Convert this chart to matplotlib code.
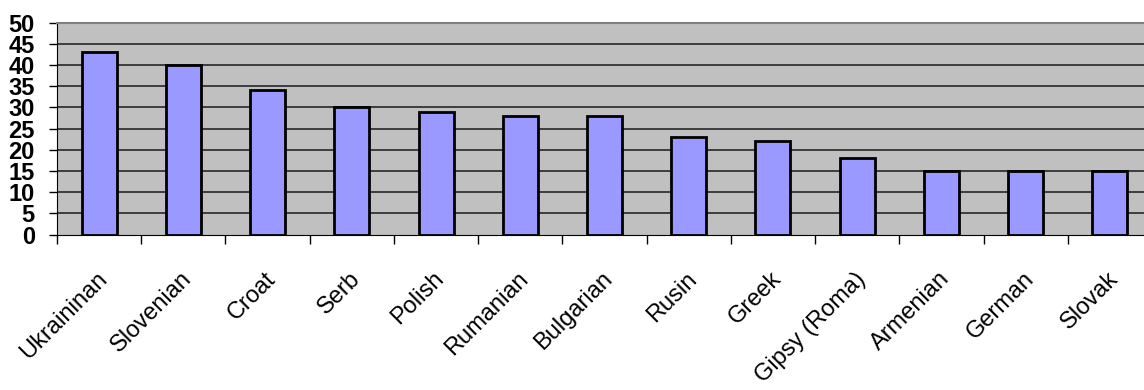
import matplotlib.pyplot as plt
import matplotlib.transforms as mtransforms
import numpy as np

groups = ["Ukraininan", "Slovenian", "Croat", "Serb", "Polish", "Rumanian",
          "Bulgarian", "Rusin", "Greek", "Gipsy (Roma)", "Armenian", "German", "Slovak"]
values = [43, 40, 34, 30, 29, 28, 28, 23, 22, 18, 15, 15, 15]
yticks = [0, 5, 10, 15, 20, 25, 30, 35, 40, 45, 50]

plt.rcParams['font.family'] = ['Liberation Sans', 'DejaVu Sans']

fig = plt.figure(figsize=(11.44, 3.9), dpi=100)
# the plot area runs a little past the right edge of the picture
ax = fig.add_axes([57 / 1144, 0.3987, 1095 / 1144, 0.5436])
ax.set_facecolor('#C0C0C0')

x = np.arange(len(groups))
ax.bar(x, values, width=0.415, color='#9999FF', edgecolor='black', linewidth=2, zorder=3)

ax.set_xlim(-0.5, len(groups) - 0.5)
ax.set_ylim(0, 50)
ax.set_yticks(yticks)
ax.set_yticklabels([str(v) for v in yticks], fontsize=17, fontweight='bold')
for v in yticks[1:-1]:
    ax.axhline(v, color='#1a1a1a', linewidth=1.1, zorder=1)

# ticks between categories, labels at category centres
ax.set_xticks(np.arange(len(groups) + 1) - 0.5)
ax.set_xticklabels([])
ax.set_xticks(x, minor=True)
ax.set_xticklabels(groups, minor=True, rotation=45, ha='right', rotation_mode='anchor', fontsize=17)
ax.tick_params(axis='x', which='minor', length=0, pad=24)
ax.tick_params(axis='x', which='major', length=6.5, width=1, direction='out')
ax.tick_params(axis='y', length=6, width=1, direction='out', pad=10)

shift = mtransforms.ScaledTranslation(-3 / 100, 0, fig.dpi_scale_trans)
for lab in ax.get_xticklabels(minor=True):
    lab.set_transform(lab.get_transform() + shift)

ax.spines['top'].set_color('#808080')
ax.spines['top'].set_linewidth(1.5)
ax.spines['right'].set_visible(False)
ax.spines['left'].set_color('black')
ax.spines['bottom'].set_color('black')

fig.savefig('out.png', dpi=100)
